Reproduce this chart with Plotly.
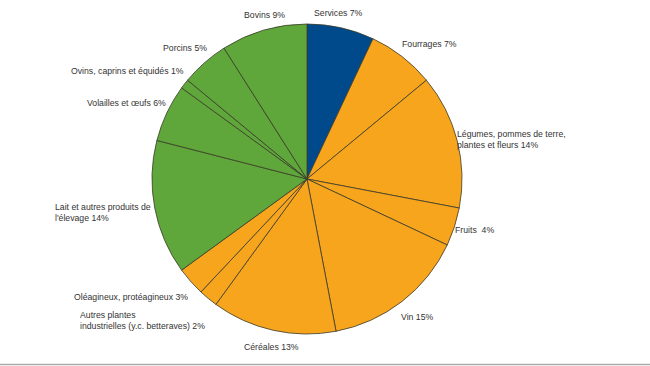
import plotly.graph_objects as go

W, H = 650, 366

labels = ["Services", "Fourrages", "Légumes, pommes de terre,<br>plantes et fleurs", "Fruits ",
          "Vin", "Céréales", "Autres plantes<br>industrielles (y.c. betteraves)",
          "Oléagineux, protéagineux", "Lait et autres produits de<br>l'élevage",
          "Volailles et œufs", "Ovins, caprins et équidés", "Porcins", "Bovins"]
values = [7, 7, 14, 4, 15, 13, 2, 3, 14, 6, 1, 5, 9]
groups = ["services", "veg", "veg", "veg", "veg", "veg", "veg", "veg",
          "ani", "ani", "ani", "ani", "ani"]
group_colors = {"services": "#004a8c", "veg": "#f8a51e", "ani": "#5fa73a"}

# label anchor positions (pixels: left x, centre y)
label_pos = [(312, 13), (400, 44), (455, 139), (453, 230), (399, 317), (242, 347),
             (78, 320.5), (72, 297), (53, 212.5), (85, 103), (69, 71), (161, 48), (242, 15)]

cx, cy, r = 307, 179, 155

fig = go.Figure(go.Pie(
    labels=labels,
    values=values,
    sort=False,
    direction="clockwise",
    rotation=0,
    textinfo="none",
    hoverinfo="label+percent",
    marker=dict(colors=[group_colors[g] for g in groups],
                line=dict(color="#3a3a2a", width=0.8)),
    domain=dict(x=[(cx - r) / W, (cx + r) / W], y=[1 - (cy + r) / H, 1 - (cy - r) / H]),
    showlegend=False,
))

for lab, val, (px, py) in zip(labels, values, label_pos):
    fig.add_annotation(
        x=px / W, y=1 - py / H, xref="paper", yref="paper",
        text=f"{lab} {val}%", showarrow=False,
        xanchor="left", yanchor="middle", align="left",
        font=dict(family="Liberation Sans, Arial, sans-serif", size=8.7, color="#333333"),
    )

fig.add_shape(type="line", xref="paper", yref="paper",
              x0=0, x1=1, y0=1 - 364.5 / H, y1=1 - 364.5 / H,
              line=dict(color="#aaaaaa", width=1.5))

fig.update_layout(
    width=W, height=H,
    margin=dict(l=0, r=0, t=0, b=0),
    paper_bgcolor="white", plot_bgcolor="white",
)

fig.write_html("out.html", config={"displayModeBar": False},
               post_script="document.body.style.margin='0';document.body.style.overflow='hidden';")
